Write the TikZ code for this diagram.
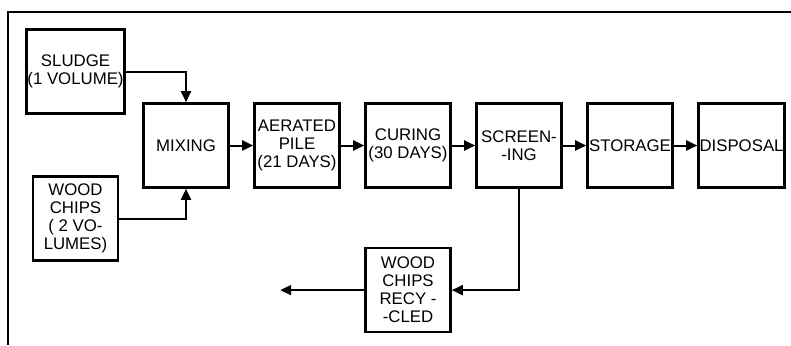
\documentclass[tikz,border=0pt]{standalone}
\usepackage{fontspec}
\setsansfont{Liberation Sans}
\usepackage{tikz}
\usetikzlibrary{
    arrows.meta,
    positioning
}
\tikzset{
    % Base style for all boxes
    plain base/.style={
        font=\sffamily\fontsize{8.4}{9}\selectfont,
        align=center,
        text=black,
        minimum width=42.5pt,
        minimum height=42pt,
        inner sep=0.5pt,
    },
    % Process boxes - plain square outline
    process/.style={
        plain base,
        rectangle,
        draw=black,
        line width=1.3pt,
    },
    % Flow arrow - filled triangle tip
    arrow/.style={
        -{Triangle[length=5.5pt, width=5pt]},
        line width=1pt,
        draw=black,
    },
    % Outer frame of the figure
    frame/.style={
        line width=1.4pt,
        draw=black,
    },
}
\begin{document}
\begin{tikzpicture}[x=0.5pt, y=-0.5pt, node distance=11.7pt]
    \useasboundingbox (0,0) rectangle (791,345);
    \draw [frame] (791,12) -- (8,12) -- (8,345);

    \node (mixing) [process] at (186,145.5) {MIXING};
    \node (sludge) [process] at (75.5,71.5) {SLUDGE\\(1 VOLUME)};
    \node (chips) [process] at (75.5,218.5) {WOOD\\CHIPS\\( 2 VO-\\LUMES)};
    \node (aerated) [process, right=of mixing] {AERATED\\PILE\\(21 DAYS)};
    \node (curing) [process, right=of aerated] {CURING\\(30 DAYS)};
    \node (screening) [process, right=of curing] {SCREEN-\\-ING};
    \node (storage) [process, right=of screening] {STORAGE};
    \node (disposal) [process, right=of storage] {DISPOSAL};
    \node (recycled) [process, below=29pt of curing] {WOOD\\CHIPS\\RECY -\\-CLED};
    \coordinate [left=42pt of recycled.west] (reuse);

    \draw [arrow] (sludge) -| (mixing);
    \draw [arrow] (chips) -| (mixing);
    \draw [arrow] (mixing) -- (aerated);
    \draw [arrow] (aerated) -- (curing);
    \draw [arrow] (curing) -- (screening);
    \draw [arrow] (screening) -- (storage);
    \draw [arrow] (storage) -- (disposal);
    \draw [arrow] (screening) |- (recycled);
    \draw [arrow] (recycled) -- (reuse);
\end{tikzpicture}
\end{document}
